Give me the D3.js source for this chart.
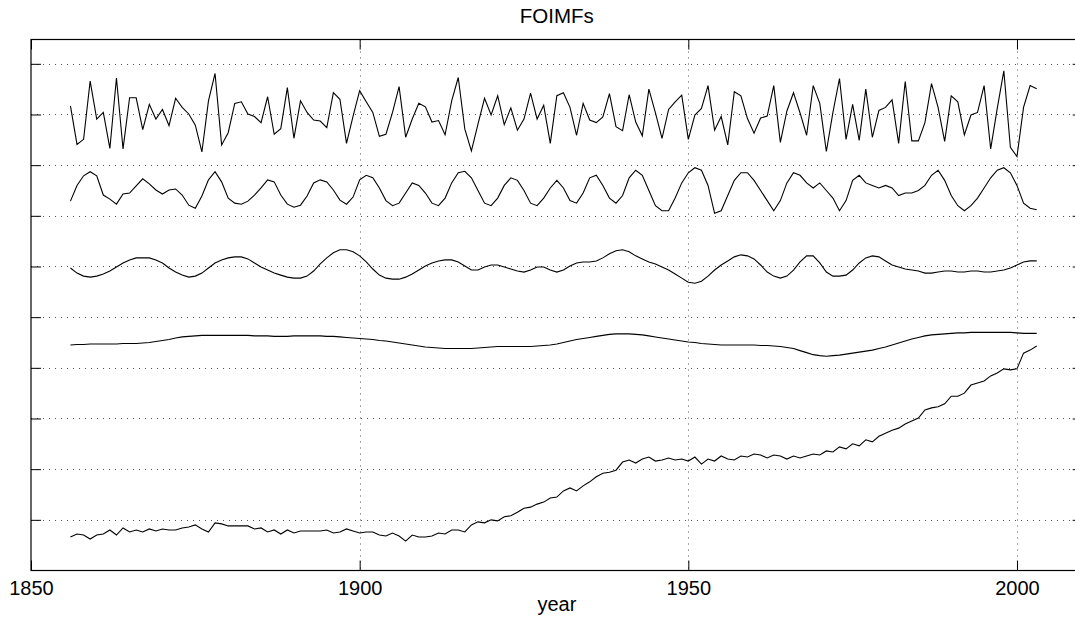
<!DOCTYPE html>
<html>
<head>
<meta charset="utf-8">
<script src="https://cdn.jsdelivr.net/npm/d3@7"></script>
<style>
  html, body { margin: 0; padding: 0; background: #fff; }
  svg { display: block; }
  text { font-family: "Liberation Sans", Arial, Helvetica, sans-serif; fill: #000; }
</style>
</head>
<body>
<svg id="chart" width="1075" height="624"></svg>
<script>
// ---------------- DATA ----------------
const startYear = 1856;
const endYear = 2003;
const xTickValues = [1850, 1900, 1950, 2000];
const yTickValues = [1, 2, 3, 4, 5, 6, 7, 8, 9, 10];
const titleText = "FOIMFs";
const xLabelText = "year";

// vertical offsets at which each component is stacked
const offsets = [9, 7.5, 6, 4.5, 0];

// IMF 1 (highest frequency)
const imf1 = [
  0.17,-0.59,-0.49,0.66,-0.09,0.04,-0.67,0.72,-0.68,0.33,
  0.33,-0.30,0.20,-0.09,0.10,-0.22,0.32,0.14,0.01,-0.21,
  -0.74,0.27,0.81,-0.60,-0.36,0.22,0.25,0.01,-0.04,-0.16,
  0.35,-0.39,-0.28,0.53,-0.47,0.27,0.04,-0.11,-0.13,-0.26,
  0.43,0.30,-0.57,-0.03,0.47,0.25,0.04,-0.43,-0.39,
  0.04,0.55,-0.45,-0.09,0.22,0.15,-0.15,-0.12,-0.40,0.27,
  0.73,-0.29,-0.72,-0.19,0.32,-0.01,0.37,-0.20,0.13,-0.31,
  -0.09,0.42,-0.09,0.18,-0.57,0.37,0.43,0.14,-0.41,0.22,
  -0.11,-0.16,-0.05,0.41,-0.24,-0.32,0.39,-0.15,-0.42,0.50,
  0.03,-0.47,0.10,0.25,0.38,-0.49,-0.01,0.12,0.57,-0.31,-0.04,
  -0.60,0.45,0.37,-0.08,-0.37,-0.07,-0.03,0.57,-0.55,0.07,
  0.43,0.03,-0.41,0.57,0.22,-0.73,0.04,0.71,-0.49,0.20,
  -0.51,0.50,-0.45,0.08,0.14,0.29,-0.57,0.65,-0.52,-0.52,
  -0.16,0.61,0.14,-0.53,0.37,0.25,-0.40,-0.01,0.04,0.57,
  -0.68,0.12,0.86,-0.65,-0.83,0.14,0.57,0.51
];

// IMF 2
const imf2 = [
  -0.21,0.10,0.29,0.37,0.29,-0.09,-0.17,-0.27,-0.07,-0.05,
  0.09,0.23,0.13,0.01,-0.07,0.01,0.03,-0.09,-0.29,-0.35,
  -0.11,0.21,0.37,0.17,-0.15,-0.25,-0.27,-0.21,-0.09,0.05,
  0.21,0.17,-0.09,-0.27,-0.33,-0.29,-0.11,0.15,0.21,0.17,
  0.01,-0.19,-0.27,-0.13,0.21,
  0.30,0.25,0.05,-0.20,-0.30,-0.25,-0.05,0.15,0.10,-0.05,
  -0.25,-0.30,-0.15,0.15,0.35,0.38,0.25,0.00,-0.25,-0.30,
  -0.15,0.10,0.25,0.20,0.00,-0.25,-0.30,-0.15,0.05,0.20,
  0.05,-0.20,-0.25,-0.05,0.25,0.30,0.10,-0.15,-0.25,-0.10,
  0.25,0.40,0.30,0.00,-0.30,-0.40,-0.40,-0.15,0.15,0.35,
  0.45,0.40,0.10,-0.45,-0.40,-0.10,0.20,0.35,0.35,0.20,
  0.00,-0.20,-0.40,-0.20,0.15,0.35,0.30,0.15,0.05,0.15,
  0.00,-0.15,-0.40,-0.20,0.20,0.30,0.15,0.10,0.05,0.10,
  0.05,-0.10,-0.05,-0.05,0.00,0.10,0.30,0.40,0.20,-0.10,
  -0.30,-0.40,-0.30,-0.15,0.05,0.25,0.40,0.45,0.35,0.10,
  -0.25,-0.35,-0.38
];

// IMF 3
const imf3 = [
  -0.03,-0.13,-0.19,-0.21,-0.19,-0.15,-0.09,-0.01,0.07,0.13,
  0.17,0.17,0.17,0.13,0.07,-0.03,-0.11,-0.17,-0.21,-0.19,
  -0.13,-0.03,0.07,0.13,0.17,0.19,0.19,0.15,0.07,-0.01,
  -0.07,-0.13,-0.17,-0.21,-0.23,-0.23,-0.19,-0.09,0.05,0.17,
  0.27,0.33,0.33,0.29,0.21,0.09,-0.05,-0.17,-0.23,-0.25,
  -0.25,-0.21,-0.15,-0.07,0.01,0.07,0.11,0.13,0.13,0.09,
  0.01,-0.07,-0.07,-0.01,0.03,0.03,-0.01,-0.05,-0.09,-0.11,
  -0.07,-0.01,-0.01,-0.07,-0.11,-0.07,0.01,0.07,0.09,0.09,
  0.11,0.17,0.25,0.31,0.33,0.29,0.21,0.15,0.09,0.05,
  -0.01,-0.07,-0.15,-0.23,-0.31,-0.33,-0.29,-0.19,-0.07,0.03,
  0.11,0.19,0.23,0.21,0.15,0.03,-0.11,-0.19,-0.23,-0.19,
  -0.07,0.09,0.21,0.21,0.07,-0.11,-0.19,-0.19,-0.17,-0.07,
  0.07,0.17,0.21,0.19,0.11,0.03,-0.01,-0.05,-0.07,-0.09,
  -0.13,-0.13,-0.11,-0.09,-0.09,-0.11,-0.11,-0.09,-0.09,-0.11,
  -0.11,-0.09,-0.07,-0.03,0.03,0.09,0.11,0.11
];

// IMF 4
const imf4 = [
  -0.05,-0.04,-0.04,-0.03,-0.03,-0.03,-0.03,-0.03,-0.02,-0.02,
  -0.02,-0.01,0.00,0.02,0.04,0.06,0.09,0.11,0.12,0.13,
  0.14,0.14,0.14,0.14,0.14,0.14,0.14,0.14,0.13,0.13,
  0.13,0.12,0.12,0.12,0.13,0.13,0.13,0.13,0.13,0.12,
  0.12,0.11,0.10,0.09,0.08,0.07,0.06,0.04,0.03,0.01,
  -0.01,-0.03,-0.05,-0.07,-0.09,-0.10,-0.11,-0.12,-0.12,-0.12,
  -0.12,-0.12,-0.11,-0.10,-0.09,-0.08,-0.08,-0.08,-0.08,-0.08,
  -0.08,-0.07,-0.06,-0.05,-0.03,0.00,0.03,0.06,0.08,0.10,
  0.12,0.14,0.16,0.17,0.17,0.17,0.16,0.15,0.13,0.11,
  0.09,0.07,0.05,0.03,0.01,0.00,-0.02,-0.03,-0.04,-0.05,
  -0.05,-0.05,-0.05,-0.05,-0.05,-0.06,-0.06,-0.07,-0.08,-0.10,
  -0.12,-0.16,-0.20,-0.24,-0.26,-0.27,-0.26,-0.25,-0.23,-0.21,
  -0.19,-0.17,-0.15,-0.12,-0.09,-0.05,-0.01,0.03,0.07,0.10,
  0.13,0.15,0.16,0.17,0.18,0.19,0.19,0.20,0.20,0.20,
  0.20,0.20,0.20,0.20,0.19,0.18,0.18,0.18
];

// Residual trend
const trend = [
  0.66,0.72,0.70,0.62,0.70,0.72,0.80,0.70,0.84,0.76,
  0.80,0.76,0.82,0.78,0.82,0.80,0.80,0.84,0.86,0.90,
  0.82,0.76,0.94,0.92,0.88,0.88,0.88,0.88,0.82,0.84,
  0.76,0.80,0.72,0.80,0.74,0.78,0.78,0.78,0.78,0.80,
  0.74,0.76,0.82,0.78,0.74,0.76,0.76,0.70,0.68,0.74,
  0.68,0.58,0.70,0.66,0.66,0.68,0.74,0.72,0.80,0.80,
  0.76,0.90,0.96,0.94,1.00,0.98,1.06,1.08,1.15,1.23,
  1.25,1.31,1.35,1.43,1.45,1.57,1.63,1.57,1.67,1.75,
  1.85,1.92,1.94,1.98,2.14,2.18,2.12,2.20,2.24,2.16,
  2.18,2.22,2.18,2.20,2.16,2.24,2.10,2.20,2.16,2.26,
  2.20,2.18,2.26,2.24,2.30,2.28,2.22,2.28,2.26,2.20,
  2.26,2.22,2.26,2.30,2.28,2.36,2.34,2.44,2.40,2.50,
  2.46,2.58,2.54,2.65,2.71,2.77,2.81,2.89,2.95,3.01,
  3.17,3.21,3.23,3.29,3.44,3.44,3.50,3.66,3.70,3.74,
  3.84,3.90,3.98,3.96,3.98,4.29,4.35,4.43
];

const components = [imf1, imf2, imf3, imf4, trend];

// ---------------- DRAW ----------------
const W = 1075, H = 624;
const plot = { left: 31, top: 39.5, bottom: 570.5, right: 1082.7 };

const svg = d3.select("#chart");
svg.append("rect").attr("width", W).attr("height", H).attr("fill", "#fff");

const years = d3.range(startYear, endYear + 1);

const x = d3.scaleLinear().domain([1850, 2010]).range([plot.left, plot.right]);
const y = d3.scaleLinear().domain([0, 10.48]).range([plot.bottom, plot.top]);

// grid
const grid = svg.append("g");
grid.selectAll("line.hg").data(yTickValues).join("line")
  .attr("x1", plot.left).attr("x2", plot.right)
  .attr("y1", d => Math.round(y(d)) + 0.5).attr("y2", d => Math.round(y(d)) + 0.5)
  .attr("stroke", "#555").attr("stroke-width", 1).attr("stroke-dasharray", "1,5");
grid.selectAll("line.vg").data(xTickValues.slice(1)).join("line")
  .attr("x1", d => Math.round(x(d)) + 0.5).attr("x2", d => Math.round(x(d)) + 0.5)
  .attr("y1", plot.top).attr("y2", plot.bottom)
  .attr("stroke", "#555").attr("stroke-width", 1).attr("stroke-dasharray", "1,5");

// axes using d3 axis generators (ticks inward, matlab style)
const xAxisB = d3.axisBottom(x).tickValues(xTickValues).tickSize(-10).tickPadding(0).tickFormat(d3.format("d"));
const gxb = svg.append("g").attr("transform", `translate(0,${plot.bottom})`).call(xAxisB);
gxb.select(".domain").remove();
gxb.selectAll("text").attr("dy", null).attr("y", 24).style("font-size", "20px")
  .style("font-family", '"Liberation Sans", Arial, sans-serif');

const xAxisT = d3.axisTop(x).tickValues(xTickValues).tickSize(-10).tickFormat("");
const gxt = svg.append("g").attr("transform", `translate(0,${plot.top})`).call(xAxisT);
gxt.select(".domain").remove();

const yAxisL = d3.axisLeft(y).tickValues(yTickValues).tickSize(-10).tickFormat("");
const gyl = svg.append("g").attr("transform", `translate(${plot.left},0)`).call(yAxisL);
gyl.select(".domain").remove();

const yAxisR = d3.axisRight(y).tickValues(yTickValues).tickSize(-10).tickFormat("");
const gyr = svg.append("g").attr("transform", `translate(${plot.right},0)`).call(yAxisR);
gyr.select(".domain").remove();

svg.selectAll(".tick line").attr("stroke", "#000").attr("stroke-width", 1);

// box
svg.append("rect")
  .attr("x", plot.left).attr("y", plot.top)
  .attr("width", plot.right - plot.left).attr("height", plot.bottom - plot.top)
  .attr("fill", "none").attr("stroke", "#000").attr("stroke-width", 1.2);

// series
const line = d3.line().x(d => x(d.year)).y(d => y(d.v));
components.forEach((vals, i) => {
  const pts = vals.map((v, j) => ({ year: years[j], v: v + offsets[i] }));
  svg.append("path").datum(pts)
    .attr("d", line)
    .attr("fill", "none").attr("stroke", "#000").attr("stroke-width", 1.1)
    .attr("stroke-linejoin", "miter");
});

// title and label
svg.append("text").attr("x", (plot.left + plot.right) / 2).attr("y", 23)
  .attr("text-anchor", "middle").style("font-size", "20.5px").text(titleText);
svg.append("text").attr("x", (plot.left + plot.right) / 2).attr("y", 611)
  .attr("text-anchor", "middle").style("font-size", "20px").text(xLabelText);
</script>
</body>
</html>
